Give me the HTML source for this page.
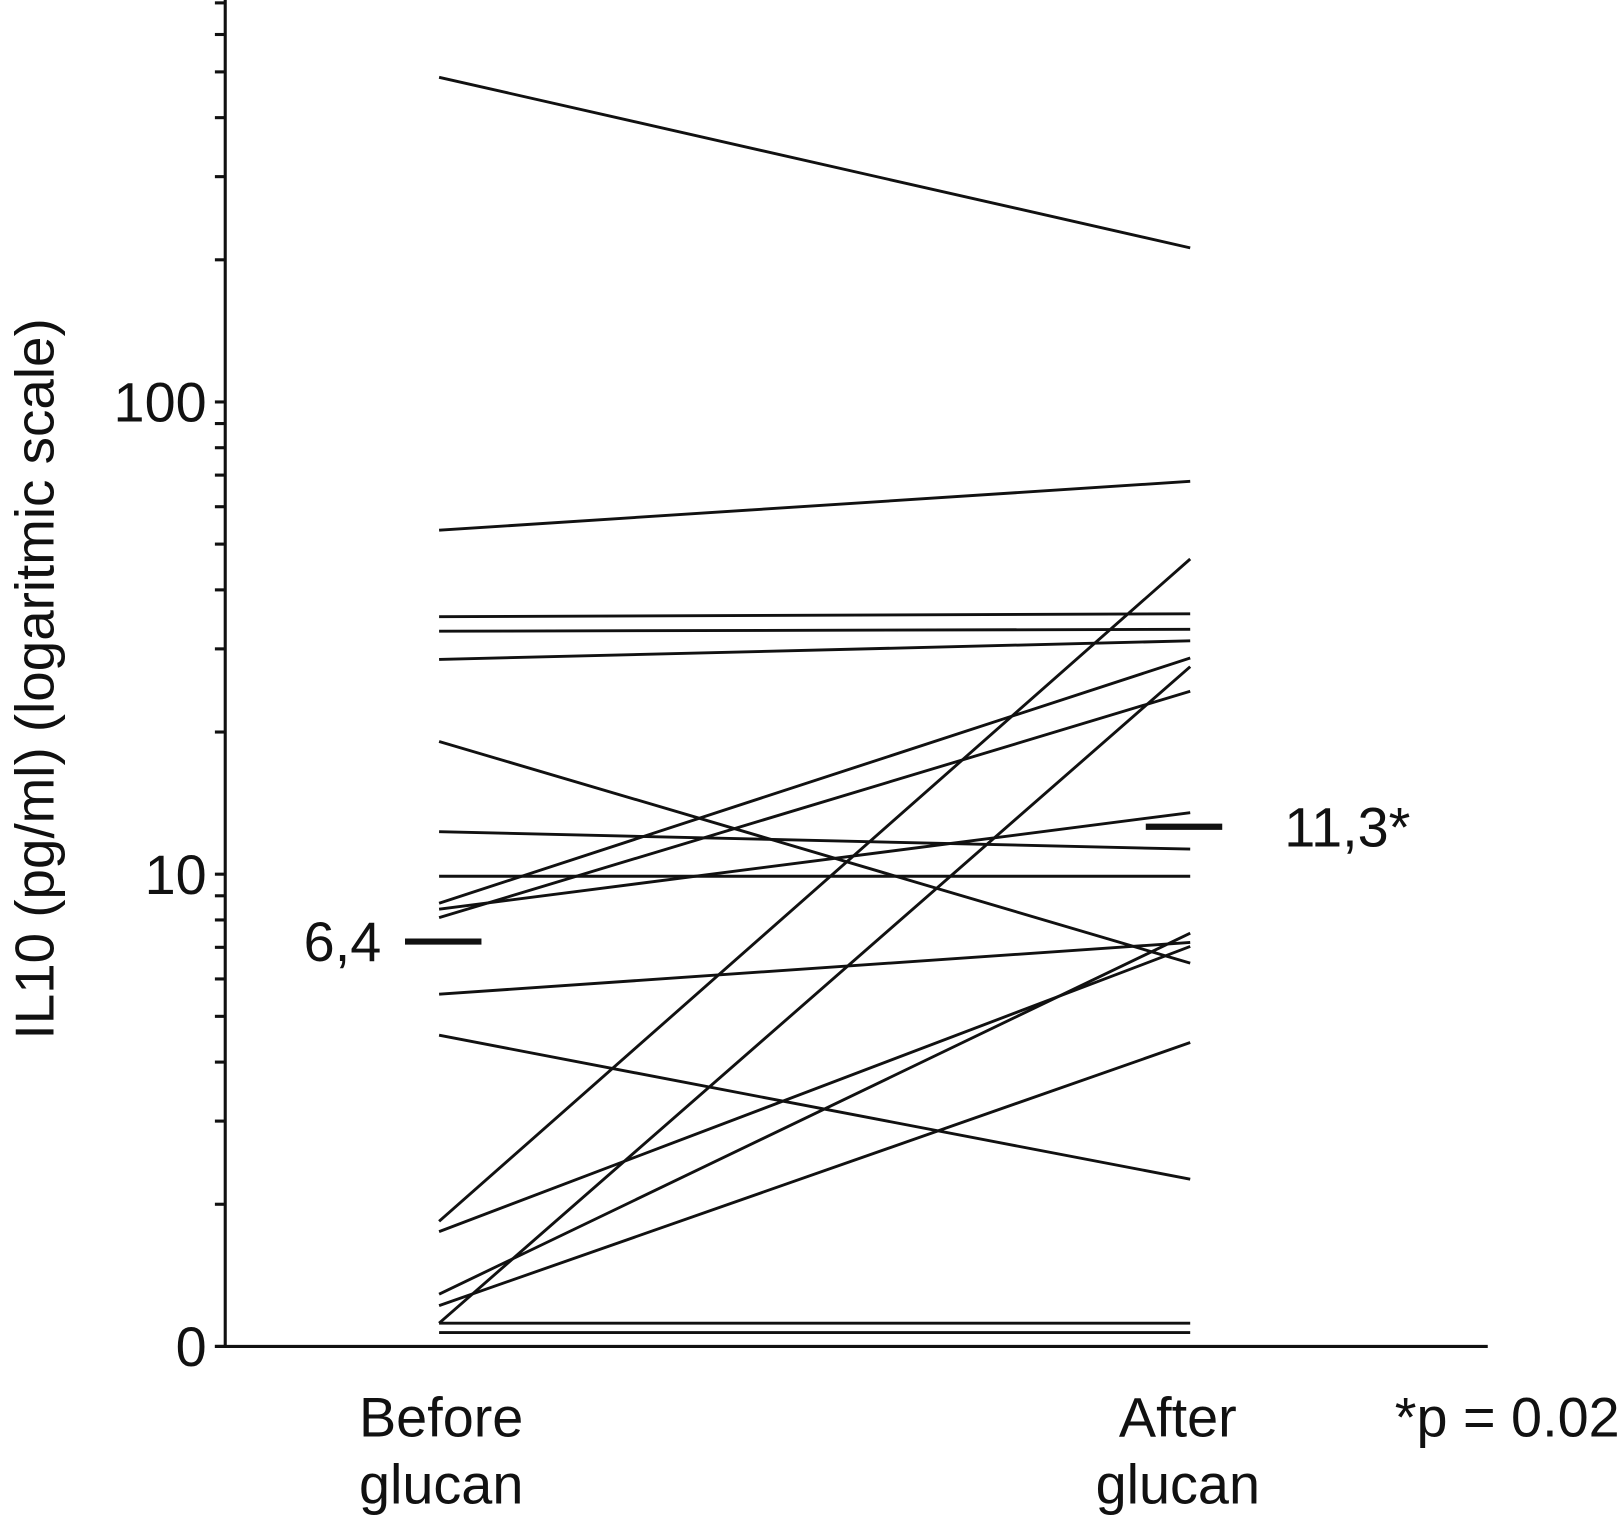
<!DOCTYPE html>
<html><head><meta charset="utf-8"><style>
html,body{margin:0;padding:0;background:#fff;}
svg{display:block;}
text{font-family:"Liberation Sans",Arial,sans-serif;fill:#111;}
</style></head><body>
<svg id="chart" width="1620" height="1520" viewBox="0 0 1568 1471" preserveAspectRatio="none">
<g id="axes"></g>
<g id="series"></g>
<g id="labels">
<text x="52" y="657" font-size="53" text-anchor="middle" transform="rotate(-90 52 657)">IL10 (pg/ml) (logaritmic scale)</text>
<text x="427" y="1390" font-size="54" text-anchor="middle">Before</text>
<text x="427" y="1455" font-size="54" text-anchor="middle">glucan</text>
<text x="1140" y="1390" font-size="54" text-anchor="middle">After</text>
<text x="1140" y="1455" font-size="54" text-anchor="middle">glucan</text>
<text x="1350" y="1390" font-size="54">*p = 0.02</text>
<text x="369" y="930" font-size="54" text-anchor="end">6,4</text>
<text x="1243" y="819" font-size="54">11,3*</text>
</g>
</svg>
<script>
const beforeValues=[487,53.5,35.1,32.7,28.5,19.1,12.3,9.9,8.68,8.43,8.09,5.57,4.56,1.84,1.75,1.29,1.22,1.12,1.12,1.07];
const afterValues=[212,67.9,35.6,33.0,31.2,6.48,11.3,9.9,28.7,13.5,24.4,7.17,2.26,46.5,7.03,7.50,4.40,27.5,1.12,1.07];
const meanValues=[7.2,12.6];
const yTickMajor=[1,10,100];
const yTickLabels=["0","10","100"];
const NS="http://www.w3.org/2000/svg";
const x0=218,yBase=1303,decade=457;
function yScale(v){return yBase-decade*Math.log10(v);}
const xBefore=425,xAfter=1152;
function mk(tag,attrs,parent){const e=document.createElementNS(NS,tag);for(const k in attrs)e.setAttribute(k,attrs[k]);parent.appendChild(e);return e;}
const axes=document.getElementById('axes');
let a=mk('line',{x1:x0,y1:0,x2:x0,y2:yBase+1.5,stroke:'#111','stroke-width':3},axes);


a=mk('line',{x1:208,y1:yBase,x2:1440,y2:yBase,stroke:'#111','stroke-width':3},axes);


for(let d=1;d<=100;d*=10){for(let m=1;m<=9;m++){const v=d*m;const y=yScale(v);if(y<0)continue;
 const t=mk('line',{x1:208,y1:y,x2:x0,y2:y,stroke:'#111','stroke-width':3},axes);
 
 }}
yTickMajor.forEach((v,i)=>{const t=mk('text',{x:200,y:yScale(v)+19,'font-size':54,'text-anchor':'end'},axes);t.textContent=yTickLabels[i];
 
 });
const series=document.getElementById('series');
beforeValues.forEach((b,i)=>{const l=mk('line',{x1:xBefore,y1:yScale(b),x2:xAfter,y2:yScale(afterValues[i]),stroke:'#111','stroke-width':2.8},series);
 
 });
let m=mk('line',{x1:392,y1:yScale(meanValues[0]),x2:466,y2:yScale(meanValues[0]),stroke:'#111','stroke-width':6},series);


m=mk('line',{x1:1109,y1:yScale(meanValues[1]),x2:1183,y2:yScale(meanValues[1]),stroke:'#111','stroke-width':6},series);


</script>
</body></html>
